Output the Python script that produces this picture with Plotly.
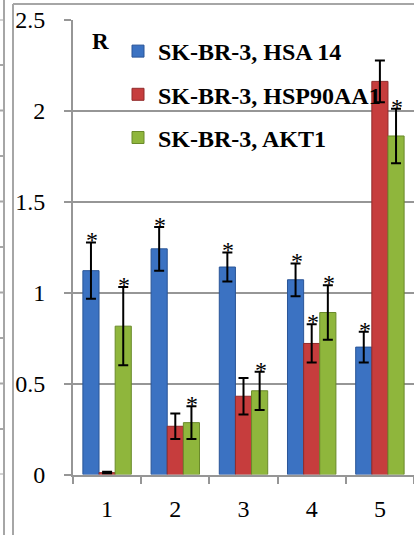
import plotly.graph_objects as go

# ---------------- data ----------------
categories = ["1", "2", "3", "4", "5"]
series_names = ["SK-BR-3, HSA 14", "SK-BR-3, HSP90AA1", "SK-BR-3, AKT1"]
hsa14 = [1.12, 1.24, 1.14, 1.07, 0.70]
hsa14_err = [0.155, 0.12, 0.08, 0.09, 0.085]
hsp90 = [0.01, 0.265, 0.43, 0.72, 2.16]
hsp90_err = [0.005, 0.07, 0.10, 0.105, 0.115]
akt1 = [0.815, 0.285, 0.46, 0.89, 1.86]
akt1_err = [0.215, 0.09, 0.105, 0.15, 0.15]
hsa14_star = [True, True, True, True, True]
hsp90_star = [False, False, False, True, False]
akt1_star = [True, True, True, True, True]
y_ticks = [0, 0.5, 1, 1.5, 2, 2.5]
y_tick_text = ["0", "0.5", "1", "1.5", "2", "2.5"]
strip_levels = [0, 0.25, 0.5, 0.75, 1, 1.25, 1.5, 1.75, 2, 2.25, 2.5]
panel_label = "R"

# ---------------- style ----------------
W, H = 414, 535
colors = ["#3b72c2", "#c63d3d", "#8fb63c"]
edge_colors = ["#2a5597", "#912b2b", "#6a8a2a"]
grid = "#969696"
serif = "Times New Roman, Liberation Serif, Tinos, serif"
bargap = 0.29

x0_px, x1_px = 73, 414
ytop_px, ybot_px = 19.5, 474.5
dom_x = [x0_px / W, x1_px / W]
dom_y = [1 - ybot_px / H, 1 - ytop_px / H]

fig = go.Figure()
vals = [hsa14, hsp90, akt1]
errs = [hsa14_err, hsp90_err, akt1_err]
stars = [hsa14_star, hsp90_star, akt1_star]
for i in range(3):
    fig.add_trace(go.Bar(
        x=categories, y=vals[i], name=series_names[i],
        marker=dict(color=colors[i], line=dict(color=edge_colors[i], width=1)),
        error_y=dict(type="data", array=errs[i], visible=True,
                     color="black", thickness=2, width=5),
        legendgroup=f"g{i}",
    ))

# asterisks above error bars
cat_px = (x1_px - x0_px) / len(categories)
bar_px = cat_px * (1 - bargap) / 3
annotations = []
for i in range(3):
    for j in range(len(categories)):
        if stars[i][j]:
            annotations.append(dict(
                x=j, y=vals[i][j] + errs[i][j], xref="x", yref="y",
                text="*", showarrow=False, yanchor="bottom",
                xshift=(i - 1) * bar_px + 1, yshift=-13,
                font=dict(family=serif, size=24, color="#000000"),
            ))
annotations.append(dict(
    x=100 / W, y=1 - 41 / H, xref="paper", yref="paper",
    text=f"<b>{panel_label}</b>", showarrow=False,
    xanchor="center", yanchor="middle",
    font=dict(family=serif, size=23, color="black"),
))

# decorative frame lines (left strip + border)
shapes = [
    dict(type="line", xref="paper", yref="paper", x0=4 / W, x1=4 / W, y0=0, y1=1,
         line=dict(color="#a6a6a6", width=2)),
    dict(type="line", xref="paper", yref="paper", x0=13 / W, x1=13 / W, y0=0, y1=1 - 4 / H,
         line=dict(color="#a6a6a6", width=2)),
    dict(type="line", xref="paper", yref="paper", x0=13 / W, x1=1, y0=1 - 4 / H, y1=1 - 4 / H,
         line=dict(color="#a6a6a6", width=2)),
]
for lv in strip_levels:
    shapes.append(dict(type="line", xref="paper", yref="y", x0=0, x1=4 / W, y0=lv, y1=lv,
                       line=dict(color="#a6a6a6", width=2)))

fig.update_layout(
    template="none",
    width=W, height=H,
    margin=dict(l=0, r=0, t=0, b=0, autoexpand=False),
    paper_bgcolor="white", plot_bgcolor="white",
    barmode="group", bargap=bargap, bargroupgap=0,
    font=dict(family=serif, size=24, color="black"),
    xaxis=dict(domain=dom_x, type="category", tickson="boundaries",
               range=[-0.5, len(categories) - 0.5],
               ticks="outside", ticklen=7, tickwidth=2, tickcolor=grid,
               showline=True, linecolor=grid, linewidth=2, showgrid=False,
               tickfont=dict(family=serif, size=24), ticklabelstandoff=12,
               automargin=False, anchor="y"),
    yaxis=dict(domain=dom_y, range=[0, 2.5], tickvals=y_ticks, ticktext=y_tick_text,
               ticks="outside", ticklen=7, tickwidth=2, tickcolor=grid,
               showline=True, linecolor=grid, linewidth=2,
               showgrid=True, gridcolor=grid, gridwidth=2, zeroline=False,
               tickfont=dict(family=serif, size=24), ticklabelstandoff=14,
               automargin=False, anchor="x"),
    legend=dict(x=118 / W, y=1 - 29 / H, xanchor="left", yanchor="top",
                bgcolor="rgba(0,0,0,0)", borderwidth=0, tracegroupgap=9,
                font=dict(family=serif, size=24, color="black", weight="bold")),
    showlegend=True,
    annotations=annotations,
    shapes=shapes,
)

fig.write_html("out.html")
